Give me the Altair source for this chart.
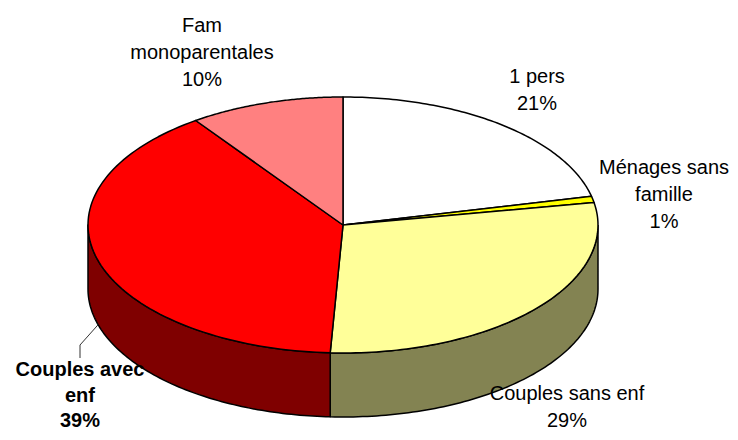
import math
import altair as alt
import pandas as pd

# ---- data ----
categories = ["1 pers", "Ménages sans famille", "Couples sans enf", "Couples avec enf", "Fam monoparentales"]
values = [21.4, 0.8, 28.6, 39.4, 9.8]
top_colors = ["#FFFFFF", "#FFFF00", "#FFFF99", "#FF0000", "#FF8080"]
side_colors = ["#808080", "#808000", "#838352", "#7F0000", "#804040"]
label_lines = ["1 pers", "Ménages sans\nfamille", "Couples sans enf", "Couples avec\nenf", "Fam\nmonoparentales"]
label_bold = [False, False, False, True, False]

# ---- layout ----
W, H = 722, 424
CX, CY, RX, RY, DEPTH = 335, 217, 255, 128, 64
N = 90
label_x = [529, 656, 559, 72, 194]
label_y = [75, 166, 392, 368, 24]
FONT = "Liberation Sans"
FS = 20

slices = pd.DataFrame({
    "category": categories, "value": values, "k": list(range(len(values))),
    "top": top_colors, "side": side_colors,
})

labels = pd.DataFrame({
    "text": [f"{l}\n{round(v)}%" for l, v in zip(label_lines, values)],
    "lx": label_x, "ly": label_y, "bold": label_bold,
})

# leader for the bold label, starting at the slice's mid angle on the bottom rim
total = sum(values)
cum_before = sum(values[:3])
mid = 2 * math.pi * (cum_before + values[3] / 2) / total
sx = CX + RX * math.sin(mid)
sy = CY - RY * math.cos(mid) + DEPTH
leader = pd.DataFrame({"px": [sx, 72, 72], "py": [sy, 337, 350], "o": [0, 1, 2]})

xsc = alt.Scale(domain=[0, W])
ysc = alt.Scale(domain=[0, H], reverse=True)

base = alt.Chart(slices).transform_window(
    cum="sum(value)", sort=[alt.SortField("k")], frame=[None, 0]
).transform_joinaggregate(total="sum(value)").transform_calculate(
    t0="2*PI*(datum.cum - datum.value)/datum.total"
).transform_calculate(
    t1="2*PI*datum.cum/datum.total"
)

side = base.transform_calculate(
    s0="max(datum.t0, PI/2)"
).transform_calculate(
    s1="min(datum.t1, 3*PI/2)"
).transform_filter("datum.s1 > datum.s0").transform_calculate(
    idx=f"sequence(0, {2 * N + 1})"
).transform_flatten(["idx"]).transform_calculate(
    j=f"datum.idx < {N} ? datum.idx : (datum.idx < {2 * N} ? {2 * N - 1} - datum.idx : 0)"
).transform_calculate(
    a=f"datum.s0 + (datum.s1 - datum.s0) * datum.j / {N - 1}"
).transform_calculate(
    px=f"{CX} + {RX} * sin(datum.a)"
).transform_calculate(
    py=f"{CY} - {RY} * cos(datum.a) + ((datum.idx >= {N} && datum.idx < {2 * N}) ? {DEPTH} : 0)"
).mark_line(filled=True, stroke="black", strokeWidth=1.5, strokeJoin="round").encode(
    x=alt.X("px:Q", scale=xsc, axis=None),
    y=alt.Y("py:Q", scale=ysc, axis=None),
    order=alt.Order("idx:Q"),
    detail="category:N",
    color=alt.Color("side:N", scale=None),
)

top = base.transform_calculate(
    idx=f"sequence(0, {N + 2})"
).transform_flatten(["idx"]).transform_calculate(
    a=f"datum.t0 + (datum.t1 - datum.t0) * (datum.idx - 1) / {N - 1}"
).transform_calculate(
    px=f"(datum.idx == 0 || datum.idx > {N}) ? {CX} : {CX} + {RX} * sin(datum.a)"
).transform_calculate(
    py=f"(datum.idx == 0 || datum.idx > {N}) ? {CY} : {CY} - {RY} * cos(datum.a)"
).mark_line(filled=True, stroke="black", strokeWidth=1.5, strokeJoin="round").encode(
    x=alt.X("px:Q", scale=xsc, axis=None),
    y=alt.Y("py:Q", scale=ysc, axis=None),
    order=alt.Order("idx:Q"),
    detail="category:N",
    color=alt.Color("top:N", scale=None),
)

lead = alt.Chart(leader).mark_line(color="#333333", strokeWidth=1).encode(
    x=alt.X("px:Q", scale=xsc, axis=None),
    y=alt.Y("py:Q", scale=ysc, axis=None),
    order=alt.Order("o:Q"),
)

txt_norm = alt.Chart(labels).transform_filter("!datum.bold").mark_text(
    font=FONT, fontSize=FS, lineHeight=27, lineBreak="\n", align="center",
    baseline="alphabetic", color="black",
).encode(
    x=alt.X("lx:Q", scale=xsc, axis=None),
    y=alt.Y("ly:Q", scale=ysc, axis=None),
    text="text:N",
)

txt_bold = alt.Chart(labels).transform_filter("datum.bold").mark_text(
    font=FONT, fontSize=FS, fontWeight="bold", lineHeight=25.5, lineBreak="\n",
    align="center", baseline="alphabetic", color="black",
).encode(
    x=alt.X("lx:Q", scale=xsc, axis=None),
    y=alt.Y("ly:Q", scale=ysc, axis=None),
    text="text:N",
)

chart = alt.layer(side, top, lead, txt_norm, txt_bold).properties(
    width=W, height=H, padding=0, autosize="none", background="white"
).configure_view(stroke=None)

chart.save("out.html", embed_options={"renderer": "svg", "actions": False})
